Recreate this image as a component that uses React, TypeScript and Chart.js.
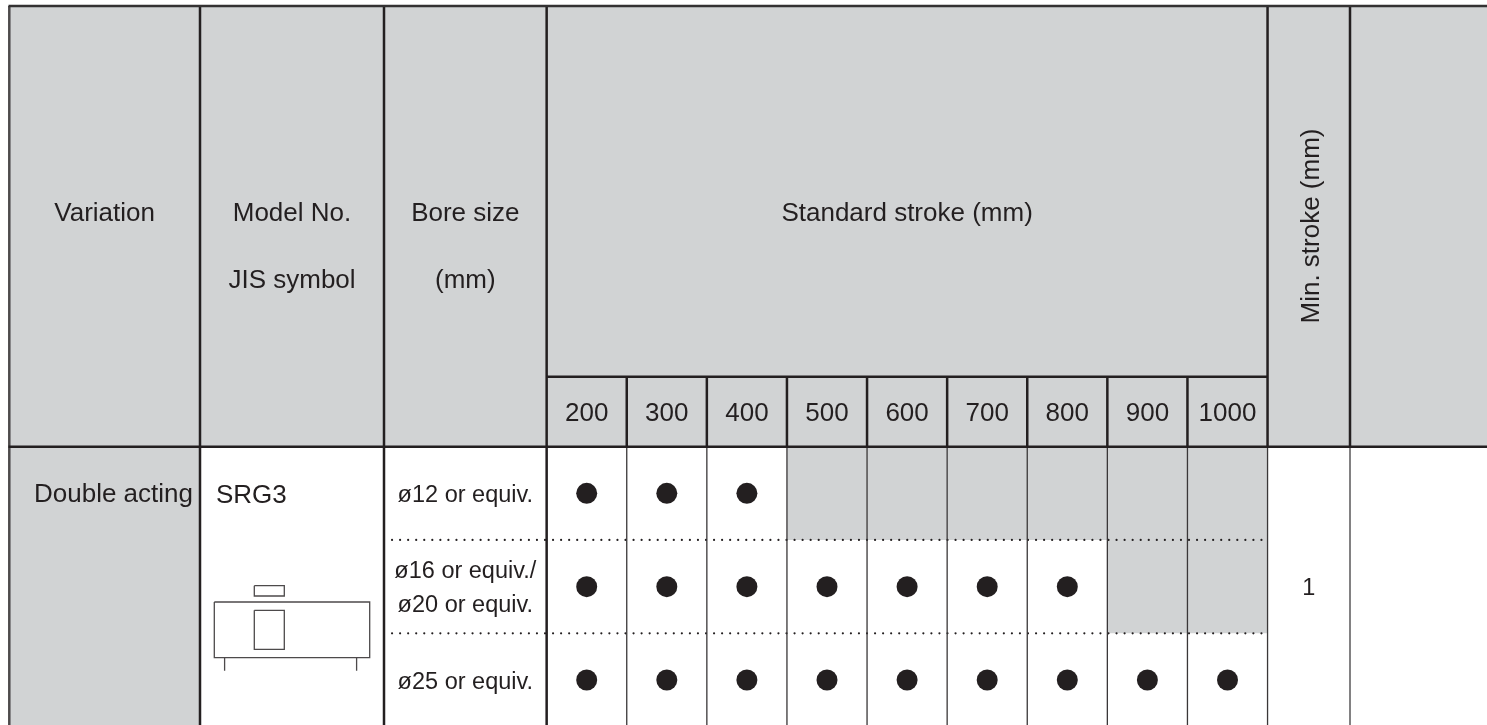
import React, { useEffect, useRef } from "react";
import { Chart, registerables } from "chart.js";

Chart.register(...registerables);

// ---- data ----
const strokes = [200, 300, 400, 500, 600, 700, 800, 900, 1000];
const boreLabels = [["ø12 or equiv."], ["ø16 or equiv./", "ø20 or equiv."], ["ø25 or equiv."]];
const boreMaxStroke = [400, 800, 1000];
const minStroke = "1";
const variation = "Double acting";
const modelNo = "SRG3";
const headVariation = "Variation";
const headModel = ["Model No.", "JIS symbol"];
const headBore = ["Bore size", "(mm)"];
const headStroke = "Standard stroke (mm)";
const headMin = "Min. stroke (mm)";

// ---- layout: stroke axis and row axis, mapped so the table fills the page ----
const W = 1487;
const H = 725;
const PX_PER_STROKE = 0.801;
const PX_PER_ROW = 93.33;
const X0 = 586.7;
const Y0 = 493.3;
const ux = (px: number) => 200 + (px - X0) / PX_PER_STROKE;
const uy = (px: number) => (px - Y0) / PX_PER_ROW;

const GRAY = "#d1d3d4";
const INK = "#231f20";
const FONT = '"Liberation Sans", Arial, sans-serif';
const FONT_SIZE = 26;
const SMALL_FONT_SIZE = 23.5;
const HEAVY = 2.5;

const xL = ux(9.3);
const xModel = ux(200);
const xBore = ux(384);
const xS0 = 150;
const xS1 = 1050;
const xMin = ux(1350);
const xR = ux(W);
const yTop = uy(6);
const ySub = uy(376.7);
const yHead = -0.5;
const yB = uy(H);

type Pt = { x: number; y: number };
const cell = (x0: number, x1: number, y0: number, y1: number) => ({
  type: "line" as const,
  data: [{ x: x0, y: y0 }, { x: x1, y: y0 }] as Pt[],
  borderWidth: 0,
  pointRadius: 0,
  backgroundColor: GRAY,
  fill: { value: y1 },
  order: 5,
});
const rule = (pts: Pt[], width: number, color = INK, extra: object = {}) => ({
  type: "line" as const,
  data: pts,
  borderColor: color,
  borderWidth: width,
  pointRadius: 0,
  fill: false,
  tension: 0,
  order: 3,
  ...extra,
});
const v = (x: number, y0: number, y1: number, w: number, c = INK) => rule([{ x, y: y0 }, { x, y: y1 }], w, c);
const h = (y: number, x0: number, x1: number, w: number, c = INK) => rule([{ x: x0, y }, { x: x1, y }], w, c);
const box = (px0: number, px1: number, py0: number, py1: number) =>
  rule(
    [
      { x: ux(px0), y: uy(py0) },
      { x: ux(px1), y: uy(py0) },
      { x: ux(px1), y: uy(py1) },
      { x: ux(px0), y: uy(py1) },
      { x: ux(px0), y: uy(py0) },
    ],
    1.3,
    "#4d4a4b"
  );

const datasets: any[] = [];
// gray fills
datasets.push(cell(xL, xR, yTop, yHead));
datasets.push(cell(xL, xModel, yHead, yB));
boreMaxStroke.forEach((maxS, r) => {
  strokes.forEach((s) => {
    if (s > maxS) datasets.push(cell(s - 50, s + 50, r - 0.5, r + 0.5));
  });
});
// header rules
datasets.push(h(yTop, xL - 1, xR, HEAVY, "#333132"));
datasets.push(h(yHead, xL - 1, xR, HEAVY));
datasets.push(h(ySub, xS0, xS1, HEAVY));
datasets.push(v(xL, yTop, yB, HEAVY, "#4d4a4b"));
[xModel, xBore, xS0, xS1, xMin].forEach((x) => datasets.push(v(x, yTop, yHead, HEAVY)));
strokes.slice(1).forEach((s) => datasets.push(v(s - 50, ySub, yHead, HEAVY)));
// body rules
[xModel, xBore, xS0].forEach((x) => datasets.push(v(x, yHead, yB, HEAVY)));
strokes.slice(1).forEach((s) => datasets.push(v(s - 50, yHead, yB, 1.3, "#3a3738")));
datasets.push(v(xS1, yHead, yB, 1.3, "#3a3738"));
datasets.push(v(xMin, yHead, yB, 1.5, "#5a5859"));
// dotted row separators
[0.5, 1.5].forEach((y) =>
  datasets.push(
    rule([{ x: xBore, y }, { x: xS1, y }], 2.2, INK, { borderDash: [0.01, 8.04], borderCapStyle: "round" })
  )
);
// JIS symbol
datasets.push(box(254.3, 284.3, 585.7, 596));
datasets.push(box(214.3, 369.7, 602, 657.7));
datasets.push(box(254.3, 284.3, 610.3, 649.3));
datasets.push(rule([{ x: ux(224.6), y: uy(657.7) }, { x: ux(224.6), y: uy(670.7) }], 1.3, "#4d4a4b"));
datasets.push(rule([{ x: ux(356.6), y: uy(657.7) }, { x: ux(356.6), y: uy(670.7) }], 1.3, "#4d4a4b"));
// availability dots
datasets.push({
  type: "scatter",
  data: boreMaxStroke.flatMap((maxS, r) => strokes.filter((s) => s <= maxS).map((s) => ({ x: s, y: r }))),
  pointStyle: "circle",
  pointRadius: 10.5,
  pointBackgroundColor: INK,
  pointBorderWidth: 0,
  order: 1,
});

const textPlugin = {
  id: "tableText",
  afterDatasetsDraw(chart: any) {
    const { ctx, scales } = chart;
    const X = (u: number) => scales.x.getPixelForValue(u);
    const Y = (u: number) => scales.y.getPixelForValue(u);
    ctx.save();
    ctx.fillStyle = INK;
    ctx.textBaseline = "alphabetic";
    ctx.textAlign = "center";
    const font = (n: number) => (ctx.font = `${n}px ${FONT}`);
    font(FONT_SIZE);
    const put = (t: string, px: number, py: number) => ctx.fillText(t, px, py);
    const headLine1 = uy(221);
    const headLine2 = uy(288);
    put(headVariation, X((xL + xModel) / 2), Y(headLine1));
    put(headModel[0], X((xModel + xBore) / 2), Y(headLine1));
    put(headModel[1], X((xModel + xBore) / 2), Y(headLine2));
    put(headBore[0], X((xBore + xS0) / 2), Y(headLine1));
    put(headBore[1], X((xBore + xS0) / 2), Y(headLine2));
    put(headStroke, X((xS0 + xS1) / 2), Y(headLine1));
    strokes.forEach((s) => put(String(s), X(s), Y(uy(421))));
    ctx.textAlign = "left";
    put(variation, X(ux(34)), Y(uy(502)));
    put(modelNo, X(ux(216)), Y(uy(503)));
    ctx.textAlign = "center";
    font(SMALL_FONT_SIZE);
    const boreX = X((xBore + xS0) / 2);
    put(boreLabels[0][0], boreX, Y(uy(502)));
    put(boreLabels[1][0], boreX, Y(uy(578)));
    put(boreLabels[1][1], boreX, Y(uy(612)));
    put(boreLabels[2][0], boreX, Y(uy(689)));
    put(minStroke, X((xS1 + xMin) / 2), Y(uy(595)));
    font(FONT_SIZE);
    ctx.translate(X(ux(1319)), Y(uy(226)));
    ctx.rotate(-Math.PI / 2);
    put(headMin, 0, 0);
    ctx.restore();
  },
};

export default function App() {
  const ref = useRef<HTMLCanvasElement | null>(null);
  useEffect(() => {
    document.body.style.margin = "0";
    const chart = new Chart(ref.current as HTMLCanvasElement, {
      type: "scatter",
      data: { datasets },
      options: {
        animation: false,
        responsive: false,
        devicePixelRatio: 1,
        layout: { padding: 0, autoPadding: false },
        plugins: { legend: { display: false }, tooltip: { enabled: false }, title: { display: false } },
        elements: { line: { borderCapStyle: "butt" } },
        scales: {
          x: { type: "linear", display: false, min: ux(0), max: ux(W) },
          y: { type: "linear", display: false, reverse: true, min: uy(0), max: uy(H) },
        },
      },
      plugins: [textPlugin],
    } as any);
    return () => chart.destroy();
  }, []);
  return (
    <div style={{ width: W, height: H, overflow: "hidden", background: "#fff" }}>
      <canvas ref={ref} width={W} height={H} style={{ display: "block" }} />
    </div>
  );
}
